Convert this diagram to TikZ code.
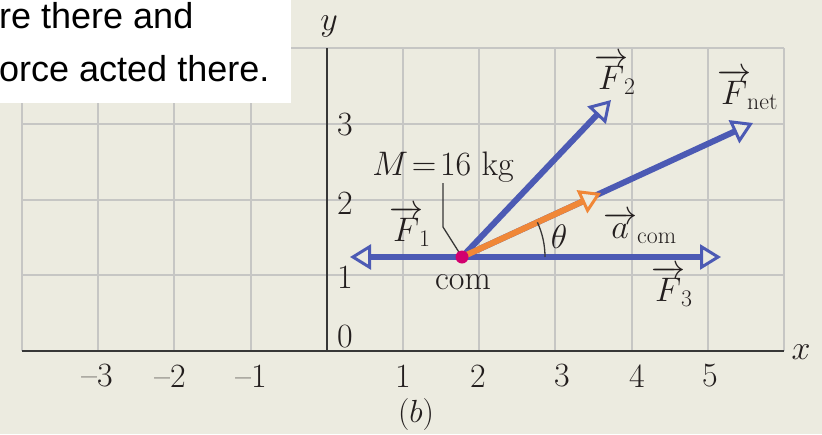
\RequirePackage{fix-cm}
\documentclass[tikz,border=0pt]{standalone}
\usepackage{fontspec}
\newfontfamily\boxfont{Liberation Sans}
\usetikzlibrary{arrows.meta}
\definecolor{bg}{RGB}{236,235,224}
\definecolor{gridc}{RGB}{198,198,196}
\definecolor{axc}{RGB}{55,55,55}
\definecolor{txt}{RGB}{35,30,30}
\definecolor{vecblue}{RGB}{76,90,180}
\definecolor{accor}{RGB}{240,135,55}
\definecolor{dotpink}{RGB}{210,0,110}
\begin{document}
\begin{tikzpicture}[x=1pt,y=-1pt,
  lab/.style={font=\fontsize{34}{38}\selectfont, inner sep=0pt, text=txt},
  gridline/.style={draw=gridc, line width=2pt},
  axis/.style={draw=axc, line width=2.6pt},
  vtip/.style={-{Triangle[length=21pt,width=25pt,line width=3pt,fill=bg]}},
  vecb/.style={draw=vecblue, line width=6pt, vtip},
  veco/.style={draw=accor, line width=6pt, vtip},
  thin/.style={draw=axc, line width=1.3pt}]
\fill[bg] (0,0) rectangle (822,434);
\useasboundingbox (0,0) rectangle (822,434);
% grid
\foreach \i in {0,...,10} {
  \draw[gridline] ({22+76.2*\i},48) -- ({22+76.2*\i},351);
}
\foreach \j in {1,...,4} {
  \draw[gridline] (22,{351-75.75*\j}) -- (784,{351-75.75*\j});
}
% white text box
\fill[white] (0,0) rectangle (291,103);
\node[anchor=base west, inner sep=0pt, font=\boxfont\fontsize{36}{40}\selectfont, text=black] (t1) at (-1,28) {re there and};
\node[anchor=base west, inner sep=0pt, font=\boxfont\fontsize{36}{40}\selectfont, text=black] (t2) at (-1,81) {orce acted there.};
% axes
\coordinate (ytop) at (327,48);
\coordinate (org) at (327,351);
\coordinate (xl) at (22,351);
\coordinate (xr) at (784,351);
\draw[axis] (ytop) -- (org);
\draw[axis] (xl) -- (xr);
\node[lab] (ylab) at (329,26) {$y$};
\node[lab] (xlab) at (801,352) {$x$};
% tick labels
\node[lab] (y3) at (345,125) {3};
\node[lab] (y2) at (345,203) {2};
\node[lab] (y1) at (345,277) {1};
\node[lab] (y0) at (345,337) {0};
\node[lab] (xm3) at (97,376) {--3};
\node[lab] (xm2) at (170,376) {--2};
\node[lab] (xm1) at (251,376) {--1};
\node[lab] (x1) at (403,376) {1};
\node[lab] (x2) at (478,376) {2};
\node[lab] (x3) at (562,376) {3};
\node[lab] (x4) at (637,376) {4};
\node[lab] (x5) at (710,376) {5};
\node[lab, font=\fontsize{32}{36}\selectfont] (cap) at (416,415) {($b$)};
% vectors
\coordinate (com) at (462,257);
\coordinate (f1) at (350,257);
\coordinate (f3) at (721,257);
\coordinate (f2) at (611,100);
\coordinate (fnet) at (753,123);
\coordinate (acom) at (601,193);
\draw[vecb] (com) -- (f1);
\draw[vecb] (com) -- (f3);
\draw[vecb] (com) -- (f2);
\draw[vecb] (com) -- (fnet);
\draw[veco] (com) -- (acom);
% theta arc
\draw[thin] (com) ++(83,0) arc[start angle=0, end angle=-24.7, radius=83];
\node[lab] (th) at (559,237) {$\theta$};
% mass label and leader
\node[lab] (mass) at (443,167) {$M\!=\!16$~kg};
\coordinate (ld1) at (443,183);
\coordinate (ld2) at (443,227);
\draw[thin] (ld1) -- (ld2) -- (com);
% dot
\fill[dotpink] (com) circle[radius=6.5];
% vector labels
\node[lab, anchor=base west] (lf1) at (389,241) {$\overrightarrow{F}_{\!1}$};
\node[lab, anchor=base west] (lf2) at (594,89) {$\overrightarrow{F}_{\!2}$};
\node[lab, anchor=base west] (lfn) at (717,104) {$\overrightarrow{F}_{\!\mathrm{net}}$};
\node[lab, anchor=base west] (la) at (603,238) {$\overrightarrow{a}_{\mathrm{com}}$};
\node[lab, anchor=base west] (lf3) at (651,301) {$\overrightarrow{F}_{\!3}$};
\node[lab, anchor=base] (lcom) at (463,289) {com};
\end{tikzpicture}
\end{document}
